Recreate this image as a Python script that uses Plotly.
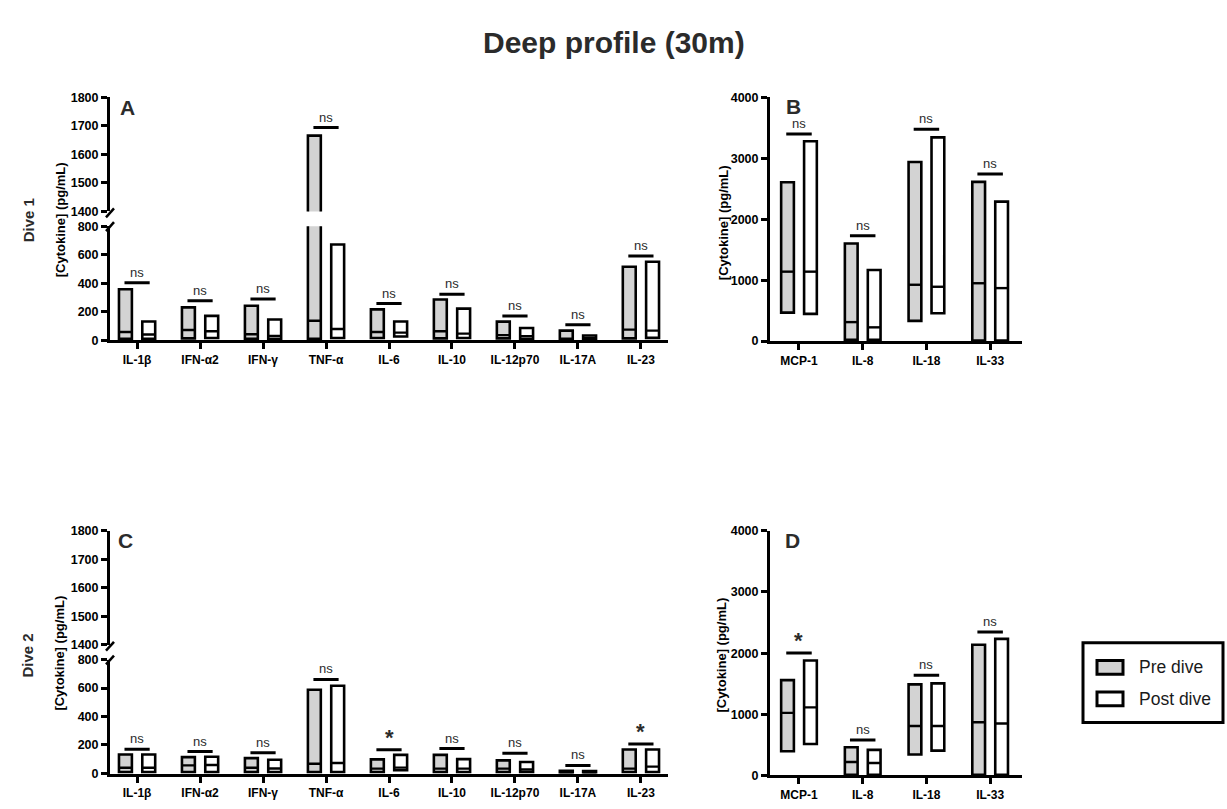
import plotly.graph_objects as go

W, H = 1227, 809
FONT = "Liberation Sans, Arial, sans-serif"
PRE_FILL = "#d3d3d3"
POST_FILL = "#ffffff"
INK = "#000000"
TEXT = "#2b2b2b"

# ---- categories ----
left_cats = ["IL-1β", "IFN-α2", "IFN-γ", "TNF-α", "IL-6", "IL-10", "IL-12p70", "IL-17A", "IL-23"]
right_cats = ["MCP-1", "IL-8", "IL-18", "IL-33"]

# ---- Dive 1, panel A (min / median / max, pg/mL) ----
a_pre_min = [10, 12, 10, 10, 15, 12, 12, 3, 12]
a_pre_med = [57, 71, 41, 136, 57, 62, 35, 10, 74]
a_pre_max = [357, 230, 241, 1666, 216, 285, 130, 67, 515]
a_post_min = [10, 15, 10, 15, 25, 15, 10, 5, 16]
a_post_med = [40, 62, 30, 78, 53, 46, 28, 15, 67]
a_post_max = [131, 170, 145, 671, 131, 221, 85, 32, 550]
a_sig_y = [402, 276, 288, 1694, 257, 322, 170, 108, 591]
a_sig_txt = ["ns"] * 9

# ---- Dive 1, panel B ----
b_pre_min = [468, 20, 333, 10]
b_pre_med = [1140, 312, 925, 950]
b_pre_max = [2608, 1602, 2941, 2613]
b_post_min = [447, 20, 457, 10]
b_post_med = [1140, 226, 892, 870]
b_post_max = [3280, 1167, 3344, 2290]
b_sig_y = [3398, 1731, 3478, 2742]
b_sig_txt = ["ns", "ns", "ns", "ns"]

# ---- Dive 2, panel C ----
c_pre_min = [10, 10, 10, 10, 10, 10, 10, 3, 10]
c_pre_med = [40, 57, 40, 68, 34, 34, 34, 8, 34]
c_pre_max = [133, 115, 108, 588, 99, 131, 92, 19, 168]
c_post_min = [10, 10, 10, 10, 23, 10, 10, 3, 10]
c_post_med = [40, 60, 35, 74, 41, 34, 28, 8, 48]
c_post_max = [133, 118, 97, 616, 131, 101, 81, 17, 168]
c_sig_y = [170, 154, 145, 660, 166, 175, 143, 57, 207]
c_sig_txt = ["ns", "ns", "ns", "ns", "*", "ns", "ns", "ns", "*"]

# ---- Dive 2, panel D ----
d_pre_min = [397, 10, 342, 10]
d_pre_med = [1023, 220, 808, 870]
d_pre_max = [1558, 461, 1489, 2137]
d_post_min = [514, 10, 406, 10]
d_post_med = [1113, 204, 808, 850]
d_post_max = [1880, 418, 1505, 2233]
d_sig_y = [2003, 578, 1638, 2345]
d_sig_txt = ["*", "ns", "ns", "ns"]

# ---- axis tick values ----
low_ticks = [0, 200, 400, 600, 800]
high_ticks = [1400, 1500, 1600, 1700, 1800]
right_ticks = [0, 1000, 2000, 3000, 4000]


def px(x):
    return x / W


def py(y):
    return 1 - y / H


fig = go.Figure()
annotations = []
shapes = []


def add_panel(xa, yaxes, n, pre, post, sig_y, sig_txt, off, bw):
    """yaxes: list of (axis id, (lo, hi)) pairs sharing one x axis."""
    for (mn, md, mx), fill, sgn in ((pre, PRE_FILL, -1), (post, POST_FILL, 1)):
        xs = [i + sgn * off for i in range(n)]
        for ya, _ in yaxes:
            fig.add_trace(go.Bar(
                x=xs, y=[b - a for a, b in zip(mn, mx)], base=mn, width=bw,
                marker=dict(color=fill, line=dict(color=INK, width=2.6)),
                xaxis=xa, yaxis=ya, showlegend=False, hoverinfo="skip"))
        # median lines
        lx, ly = [], []
        for x, m in zip(xs, md):
            lx += [x - bw / 2, x + bw / 2, None]
            ly += [m, m, None]
        fig.add_trace(go.Scatter(x=lx, y=ly, mode="lines",
                                 line=dict(color=INK, width=2.4),
                                 xaxis=xa, yaxis=yaxes[0][0], showlegend=False,
                                 hoverinfo="skip"))
    # significance brackets
    for i, (s, t) in enumerate(zip(sig_y, sig_txt)):
        ya = yaxes[0][0]
        for cand, (lo, hi) in yaxes:
            if lo <= s <= hi:
                ya = cand
        fig.add_trace(go.Scatter(x=[i - 0.2, i + 0.2], y=[s, s], mode="lines",
                                 line=dict(color=INK, width=3),
                                 xaxis=xa, yaxis=ya, showlegend=False,
                                 hoverinfo="skip"))
        star = t == "*"
        annotations.append(dict(
            x=i, y=s, xref=xa, yref=ya, text=t, showarrow=False,
            yanchor="bottom", yshift=-2 if star else 1,
            font=dict(family=FONT, size=22 if star else 13, color=TEXT,
                      weight="bold" if star else "normal")))


OFF_L, BW_L = 0.185, 0.205
OFF_R, BW_R = 0.18, 0.2

add_panel("x", [("y", (0, 800)), ("y2", (1400, 1800))], 9,
          (a_pre_min, a_pre_med, a_pre_max), (a_post_min, a_post_med, a_post_max),
          a_sig_y, a_sig_txt, OFF_L, BW_L)
add_panel("x2", [("y3", (0, 4000))], 4,
          (b_pre_min, b_pre_med, b_pre_max), (b_post_min, b_post_med, b_post_max),
          b_sig_y, b_sig_txt, OFF_R, BW_R)
add_panel("x3", [("y4", (0, 800)), ("y5", (1400, 1800))], 9,
          (c_pre_min, c_pre_med, c_pre_max), (c_post_min, c_post_med, c_post_max),
          c_sig_y, c_sig_txt, OFF_L, BW_L)
add_panel("x4", [("y6", (0, 4000))], 4,
          (d_pre_min, d_pre_med, d_pre_max), (d_post_min, d_post_med, d_post_max),
          d_sig_y, d_sig_txt, OFF_R, BW_R)

tickfont = dict(family=FONT, size=12.5, color=INK, weight="bold")
common = dict(showline=True, linewidth=3, linecolor=INK, ticks="outside",
              ticklen=6, tickwidth=2.5, tickcolor=INK, tickfont=tickfont,
              showgrid=False, zeroline=False, fixedrange=True)


def xaxis(dom, n, cats, lo, hi, anchor):
    return dict(common, domain=[px(dom[0]), px(dom[1])], range=[lo, hi],
                tickvals=list(range(n)), ticktext=cats, anchor=anchor,
                tickfont=dict(tickfont, size=12))


def yaxis(top, bottom, rng, ticks, anchor):
    return dict(common, domain=[py(bottom), py(top)], range=rng,
                tickvals=ticks, anchor=anchor)


fig.update_layout(
    xaxis=xaxis((110, 668), 9, left_cats, -0.43, 8.43, "y"),
    yaxis=yaxis(223, 339, [0, 800], low_ticks, "x"),
    yaxis2=yaxis(92, 208, [1400, 1800], high_ticks, "x"),
    xaxis2=xaxis((770, 1022), 4, right_cats, -0.455, 3.5, "y3"),
    yaxis3=yaxis(92, 340, [0, 4000], right_ticks, "x2"),
    xaxis3=xaxis((110, 668), 9, left_cats, -0.43, 8.43, "y4"),
    yaxis4=yaxis(664, 780, [0, 800], low_ticks, "x3"),
    yaxis5=yaxis(533, 649, [1400, 1800], high_ticks, "x3"),
    xaxis4=xaxis((770, 1022), 4, right_cats, -0.455, 3.5, "y6"),
    yaxis6=yaxis(533, 782, [0, 4000], right_ticks, "x4"),
)

# axis-break slashes on the split y axes
for dy in (0, 441):
    for yb in (209, 223):
        shapes.append(dict(type="line", xref="paper", yref="paper",
                           x0=px(106), y0=py(yb + 5 + dy), x1=px(114), y1=py(yb - 4 + dy),
                           line=dict(color=INK, width=2.5)))


def label(x, y, text, size, weight="bold", angle=0, color=TEXT, xanchor="center"):
    annotations.append(dict(x=px(x), y=py(y), xref="paper", yref="paper", text=text,
                            showarrow=False, textangle=angle, xanchor=xanchor,
                            yanchor="middle",
                            font=dict(family=FONT, size=size, color=color, weight=weight)))


label(614, 36, "Deep profile (30m)", 30)
label(28, 217, "Dive 1", 15, angle=-90)
label(28, 660, "Dive 2", 15, angle=-90)
for x, y in ((60, 217), (723, 220), (60, 658), (722, 660)):
    label(x, y, "[Cytokine] (pg/mL)", 13, angle=-90, color=INK)
for x, y, t in ((127, 102, "A"), (793, 101, "B"), (125, 543, "C"), (792, 543, "D")):
    label(x, y, t, 21, color=TEXT)

# legend box
shapes.append(dict(type="rect", xref="paper", yref="paper",
                   x0=px(1083), y0=py(728), x1=px(1223), y1=py(647),
                   line=dict(color=INK, width=3), fillcolor="white"))
for yc, fill, name in ((672, PRE_FILL, "Pre dive"), (704, POST_FILL, "Post dive")):
    shapes.append(dict(type="rect", xref="paper", yref="paper",
                       x0=px(1097), y0=py(yc + 7), x1=px(1123), y1=py(yc - 7),
                       line=dict(color=INK, width=3), fillcolor=fill))
    label(1137, yc, name, 17.5, weight="normal", color="#1a1a1a", xanchor="left")

fig.update_layout(
    width=W, height=H, autosize=False,
    margin=dict(l=0, r=0, t=0, b=0),
    paper_bgcolor="white", plot_bgcolor="white",
    barmode="overlay", showlegend=False,
    annotations=annotations, shapes=shapes,
    font=dict(family=FONT),
)

fig.write_html("out.html")
